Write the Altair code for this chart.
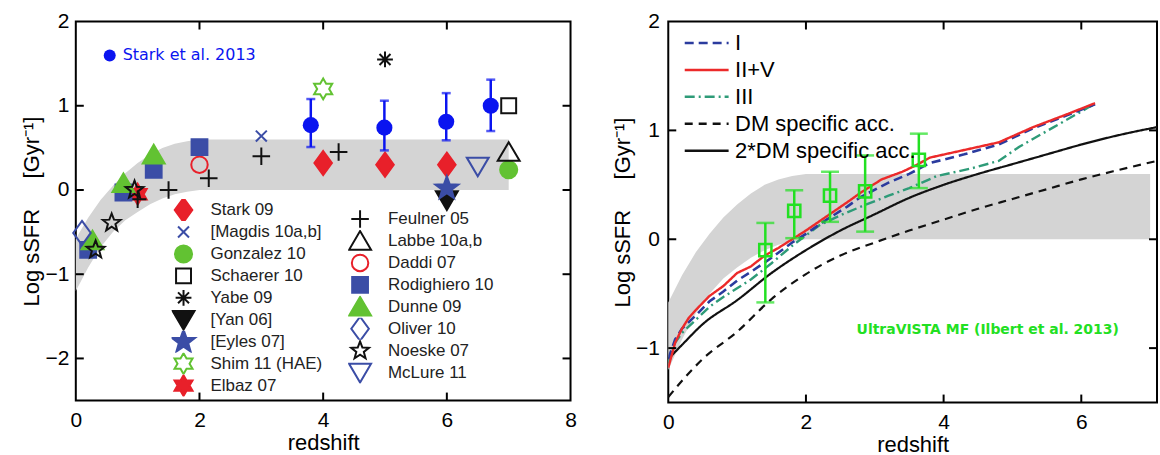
import math
import altair as alt
import pandas as pd

# ---------------- shared shaded band (both panels) ----------------
band_z = [0, 0.2, 0.4, 0.6, 0.8, 1.0, 1.2, 1.4, 1.6, 1.8, 2.0, 2.2, 7.0]
band_hi = [-0.58, -0.33, -0.12, 0.05, 0.2, 0.32, 0.42, 0.5, 0.55, 0.58, 0.6, 0.6, 0.6]
band_lo = [-1.2, -0.92, -0.68, -0.5, -0.36, -0.26, -0.17, -0.1, -0.05, -0.02, 0.0, 0.0, 0.0]

# ---------------- left panel: literature compilation ----------------
obs_series = (["Stark 09"] * 3 + ["[Magdis 10a,b]", "Gonzalez 10", "Schaerer 10", "Yabe 09",
               "[Yan 06]", "[Eyles 07]", "Shim 11 (HAE)", "Elbaz 07"]
              + ["Feulner 05"] * 5 + ["Labbe 10a,b", "Daddi 07"] + ["Rodighiero 10"] * 4
              + ["Dunne 09"] * 3 + ["Oliver 10"] + ["Noeske 07"] * 3 + ["McLure 11"])
obs_z = [4.0, 5.0, 6.0, 3.0, 7.0, 7.0, 5.0, 6.0, 6.0, 4.0, 1.0,
         3.0, 4.25, 2.15, 1.5, 1.0, 7.0, 2.0, 2.0, 1.26, 0.77, 0.2,
         1.26, 0.77, 0.27, 0.1, 0.95, 0.58, 0.32, 6.5]
obs_y = [0.32, 0.30, 0.30, 0.64, 0.24, 1.0, 1.55, -0.12, 0.02, 1.2, -0.05,
         0.40, 0.45, 0.14, 0.0, -0.11, 0.45, 0.3, 0.51, 0.24, -0.03, -0.71,
         0.42, 0.08, -0.6, -0.51, 0.0, -0.39, -0.71, 0.28]

stark13_label = ["Stark et al. 2013"]
stark13_z = [3.8, 4.99, 5.99, 6.71]
stark13_y = [0.77, 0.74, 0.81, 1.00]
stark13_lo = [0.51, 0.47, 0.59, 0.70]
stark13_hi = [1.08, 1.06, 1.15, 1.31]

left_xticks = [0, 2, 4, 6, 8]
left_yticks = [-2, -1, 0, 1, 2]

# ---------------- right panel: models ----------------
m1_z = [0, 0.1, 0.2, 0.4, 0.6, 0.8, 1.0, 1.2, 1.5, 1.8, 2.0, 2.3, 2.6, 2.8, 3.2, 3.5, 3.8, 4.3, 4.8, 5.3, 5.8, 6.2]
m1_y = [-1.1, -0.92, -0.82, -0.7, -0.57, -0.48, -0.38, -0.3, -0.17, -0.03, 0.05, 0.18, 0.3, 0.39, 0.52, 0.6, 0.7, 0.78, 0.87, 1.02, 1.14, 1.24]
m2_z = [0, 0.1, 0.2, 0.3, 0.4, 0.6, 0.8, 1.0, 1.2, 1.4, 1.6, 1.8, 2.0, 2.3, 2.6, 2.8, 3.1, 3.4, 3.6, 3.8, 4.3, 4.8, 5.3, 5.8, 6.2]
m2_y = [-1.18, -0.95, -0.82, -0.72, -0.65, -0.52, -0.43, -0.31, -0.25, -0.15, -0.08, 0.0, 0.08, 0.21, 0.34, 0.43, 0.55, 0.62, 0.68, 0.75, 0.82, 0.89, 1.03, 1.15, 1.25]
m3_z = [0, 0.1, 0.2, 0.4, 0.6, 0.8, 1.0, 1.2, 1.5, 1.8, 2.2, 2.5, 2.8, 3.2, 3.5, 3.9, 4.4, 4.8, 5.1, 5.6, 6.1, 6.2]
m3_y = [-1.14, -0.95, -0.86, -0.74, -0.62, -0.53, -0.45, -0.37, -0.22, -0.06, 0.13, 0.22, 0.3, 0.4, 0.47, 0.58, 0.65, 0.72, 0.85, 1.03, 1.21, 1.24]
dm_z = [0, 0.2, 0.5, 1.0, 1.5, 2.0, 2.5, 3.0, 3.5, 4.0, 4.5, 5.0, 5.5, 6.0, 6.5, 7.1]
dm_y = [-1.45, -1.3, -1.1, -0.85, -0.55, -0.32, -0.15, -0.03, 0.08, 0.18, 0.28, 0.37, 0.46, 0.55, 0.63, 0.72]
dm2_z = [0, 0.2, 0.5, 1.0, 1.5, 2.0, 2.5, 3.0, 3.5, 4.0, 4.5, 5.0, 5.5, 6.0, 6.5, 7.1]
dm2_y = [-1.1, -0.97, -0.78, -0.56, -0.31, -0.1, 0.08, 0.23, 0.38, 0.5, 0.6, 0.69, 0.78, 0.87, 0.95, 1.03]
model_names = ["I", "II+V", "III", "DM specific acc.", "2*DM specific acc."]

uv_z = [1.41, 1.83, 2.35, 2.86, 3.64]
uv_y = [-0.1, 0.26, 0.40, 0.44, 0.73]
uv_lo = [-0.58, 0.01, 0.16, 0.07, 0.47]
uv_hi = [0.15, 0.45, 0.62, 0.77, 0.97]
uv_label = ["UltraVISTA MF (Ilbert et al. 2013)"]
uv_label_pos = [4.64, -0.83]

right_xticks = [0, 2, 4, 6]
right_yticks = [-1, 0, 1, 2]

# ---------------- styling ----------------
RED, BLUE, GREEN, BLACK = "#e8202a", "#3b4da6", "#62c232", "#111111"
SBLUE = "#0a14f0"
LGREEN = "#22e022"
NONE = "transparent"
FONT = "Liberation Sans"
YTITLE = "Log sSFR\u00a0\u00a0\u00a0\u00a0\u00a0[Gyr\u207b\u00b9]"
LW, LH = 496, 380
RW, RH = 490, 382
GAP = 98


def star_path(n, ro, ri):
    pts = []
    for k in range(2 * n):
        r = ro if k % 2 == 0 else ri
        a = -math.pi / 2 + k * math.pi / n
        pts.append((r * math.cos(a), r * math.sin(a)))
    return "M" + "L".join(f"{x:.3f},{y:.3f}" for x, y in pts) + "Z"


def circle_path(r):
    return f"M{r},0A{r},{r},0,1,1,{-r},0A{r},{r},0,1,1,{r},0Z"


def square_path(h):
    return f"M{-h},{-h}L{h},{-h}L{h},{h}L{-h},{h}Z"


DIAMOND = "M0,-1.1L0.8,0L0,1.1L-0.8,0Z"
XMARK = "M-0.5,-0.5L0.5,0.5M-0.5,0.5L0.5,-0.5"
PLUS = "M-0.8,0L0.8,0M0,-0.8L0,0.8"
ASTER = "M-0.72,0L0.72,0M0,-0.72L0,0.72M-0.5,-0.5L0.5,0.5M-0.5,0.5L0.5,-0.5"
DOWNTRI = "M-1,-0.8L1,-0.8L0,0.9Z"
UPTRI = "M-1,0.8L1,0.8L0,-0.9Z"
HEX = star_path(6, 0.95, 0.95 / math.sqrt(3))

colA = ["Stark 09", "[Magdis 10a,b]", "Gonzalez 10", "Schaerer 10", "Yabe 09",
        "[Yan 06]", "[Eyles 07]", "Shim 11 (HAE)", "Elbaz 07"]
shapeA = [DIAMOND, XMARK, circle_path(0.78), square_path(0.68), ASTER, DOWNTRI,
          star_path(5, 1.1, 0.45), HEX, HEX]
fillA = [RED, NONE, GREEN, NONE, NONE, BLACK, BLUE, NONE, RED]
strokeA = [RED, BLUE, GREEN, BLACK, BLACK, BLACK, BLUE, GREEN, RED]

colB = ["Feulner 05", "Labbe 10a,b", "Daddi 07", "Rodighiero 10", "Dunne 09",
        "Oliver 10", "Noeske 07", "McLure 11"]
shapeB = [PLUS, UPTRI, circle_path(0.75), square_path(0.72), UPTRI, DIAMOND,
          star_path(5, 0.85, 0.36), DOWNTRI]
fillB = [NONE, NONE, NONE, BLUE, GREEN, NONE, NONE, NONE]
strokeB = [BLACK, BLACK, RED, BLUE, GREEN, BLUE, BLACK, BLUE]

# ---------------- data frames ----------------
band_df = pd.DataFrame({"z": band_z, "hi": band_hi, "lo": band_lo})
obs_df = pd.DataFrame({"series": obs_series, "z": obs_z, "y": obs_y})
s13_df = pd.DataFrame({"series": stark13_label * len(stark13_z), "z": stark13_z,
                       "y": stark13_y, "lo": stark13_lo, "hi": stark13_hi})
lines_df = pd.concat([
    pd.DataFrame({"model": name, "z": zz, "y": yy})
    for name, zz, yy in zip(model_names, [m1_z, m2_z, m3_z, dm_z, dm2_z],
                            [m1_y, m2_y, m3_y, dm_y, dm2_y])
], ignore_index=True)
uv_df = pd.DataFrame({"z": uv_z, "y": uv_y, "lo": uv_lo, "hi": uv_hi})
uvtxt_df = pd.DataFrame({"label": uv_label, "z": [uv_label_pos[0]], "y": [uv_label_pos[1]]})

# ---------------- left panel ----------------
xsL = alt.Scale(domain=[0, 8], nice=False, zero=False)
ysL = alt.Scale(domain=[-2.5, 2], nice=False, zero=False)
axXL = alt.Axis(values=left_xticks, title="redshift", labelFlush=False, labelPadding=9,
                titlePadding=2)
axYL = alt.Axis(values=left_yticks, title=YTITLE, labelPadding=7, titlePadding=1)
XL = lambda f="z": alt.X(f"{f}:Q", scale=xsL, axis=axXL)
YL = lambda f="y": alt.Y(f"{f}:Q", scale=ysL, axis=axYL)

band_L = alt.Chart(band_df).mark_area(color="#d4d4d4", opacity=1).encode(
    x=XL(), y=YL("hi"), y2="lo:Q")


def point_layer(names, shapes, fills, strokes, lx, ly, loff):
    leg = alt.Legend(title=None, orient="none", legendX=lx, legendY=ly, padding=0,
                     symbolSize=484, symbolStrokeWidth=2, clipHeight=22, rowPadding=0,
                     labelFontSize=17, labelFont=FONT, labelColor="#222222",
                     labelOffset=loff, labelLimit=400, symbolOpacity=1)
    return alt.Chart(obs_df).transform_filter(
        alt.FieldOneOfPredicate(field="series", oneOf=names)
    ).mark_point(filled=True, size=484, opacity=1, strokeWidth=2).encode(
        x=XL(), y=YL(),
        shape=alt.Shape("series:N", scale=alt.Scale(domain=names, range=shapes), legend=leg),
        fill=alt.Fill("series:N", scale=alt.Scale(domain=names, range=fills), legend=leg),
        stroke=alt.Stroke("series:N", scale=alt.Scale(domain=names, range=strokes), legend=leg),
    )


ptsA = point_layer(colA, shapeA, fillA, strokeA, 96, 178, 15)
ptsB = point_layer(colB, shapeB, fillB, strokeB, 273, 187, 16)

s13_rule = alt.Chart(s13_df).mark_rule(color=SBLUE, strokeWidth=2.5).encode(
    x=XL(), y=YL("lo"), y2="hi:Q")
s13_cap_lo = alt.Chart(s13_df).mark_tick(color=SBLUE, orient="horizontal", size=9,
                                         thickness=2.5).encode(x=XL(), y=YL("lo"))
s13_cap_hi = alt.Chart(s13_df).mark_tick(color=SBLUE, orient="horizontal", size=9,
                                         thickness=2.5).encode(x=XL(), y=YL("hi"))
s13_pts = alt.Chart(s13_df).mark_point(filled=True, shape="circle", size=260, opacity=1).encode(
    x=XL(), y=YL(),
    fill=alt.Fill("series:N", scale=alt.Scale(domain=stark13_label, range=[SBLUE]),
                  legend=alt.Legend(title=None, orient="none", legendX=26, legendY=24,
                                    padding=0, symbolType="circle", symbolSize=144,
                                    clipHeight=20, labelFont="DejaVu Sans", labelFontSize=16,
                                    labelColor=SBLUE, labelOffset=5, symbolOpacity=1,
                                    symbolStrokeWidth=0, labelLimit=400)))

tick_xL = pd.DataFrame({"t": left_xticks[1:-1]})
tick_yL = pd.DataFrame({"t": left_yticks[:-1]})
tkL = [
    alt.Chart(tick_xL).mark_rule(color="black", strokeWidth=2).encode(
        x=XL("t"), y=alt.value(LH), y2=alt.value(LH - 8)),
    alt.Chart(tick_xL).mark_rule(color="black", strokeWidth=2).encode(
        x=XL("t"), y=alt.value(0), y2=alt.value(8)),
    alt.Chart(tick_yL).mark_rule(color="black", strokeWidth=2).encode(
        y=YL("t"), x=alt.value(0), x2=alt.value(8)),
    alt.Chart(tick_yL).mark_rule(color="black", strokeWidth=2).encode(
        y=YL("t"), x=alt.value(LW), x2=alt.value(LW - 8)),
]

left = alt.layer(band_L, ptsA, ptsB, s13_rule, s13_cap_lo, s13_cap_hi, s13_pts, *tkL).resolve_scale(
    shape="independent", fill="independent", stroke="independent"
).properties(width=LW, height=LH)

# ---------------- right panel ----------------
xsR = alt.Scale(domain=[0, 7.1], nice=False, zero=False)
ysR = alt.Scale(domain=[-1.5, 2], nice=False, zero=False)
axXR = alt.Axis(values=right_xticks, title="redshift", labelFlush=False, labelPadding=9,
                titlePadding=2)
axYR = alt.Axis(values=right_yticks, title=YTITLE, labelPadding=9, titlePadding=1)
XR = lambda f="z": alt.X(f"{f}:Q", scale=xsR, axis=axXR)
YR = lambda f="y": alt.Y(f"{f}:Q", scale=ysR, axis=axYR)

band_R = alt.Chart(band_df).mark_area(color="#d4d4d4", opacity=1).encode(
    x=XR(), y=YR("hi"), y2="lo:Q")

# legends of a concatenated chart are placed relative to the whole chart's origin
line_leg = alt.Legend(title=None, orient="none", legendX=LW + GAP + 15, legendY=8, padding=0,
                      symbolType="stroke", symbolSize=1936, symbolStrokeWidth=2.5,
                      clipHeight=27, rowPadding=0, labelFontSize=22, labelFont=FONT,
                      labelColor="black", labelOffset=5, labelLimit=400)
stroke_sc = alt.Scale(domain=model_names, range=["#2b3b9e", "#ec2a2a", "#2e9b78", BLACK, BLACK])
dash_sc = alt.Scale(domain=model_names, range=[[9, 5], [1, 0], [10, 4, 2, 4], [8, 6], [1, 0]])
draw_order = [("DM specific acc.", 2.2, "monotone"), ("2*DM specific acc.", 2.2, "monotone"),
              ("III", 2.4, "linear"), ("I", 2.6, "linear"), ("II+V", 2.4, "linear")]
line_layers = [
    alt.Chart(lines_df).transform_filter(alt.datum.model == name).mark_line(
        strokeWidth=sw, interpolate=interp, clip=True).encode(
        x=XR(), y=YR(),
        stroke=alt.Stroke("model:N", scale=stroke_sc, legend=line_leg),
        strokeDash=alt.StrokeDash("model:N", scale=dash_sc, legend=line_leg),
        order=alt.Order("z:Q"))
    for name, sw, interp in draw_order
]

uv_rule = alt.Chart(uv_df).mark_rule(color=LGREEN, strokeWidth=2.5).encode(
    x=XR(), y=YR("lo"), y2="hi:Q")
uv_cap_lo = alt.Chart(uv_df).mark_tick(color=LGREEN, orient="horizontal", size=18,
                                       thickness=2.5).encode(x=XR(), y=YR("lo"))
uv_cap_hi = alt.Chart(uv_df).mark_tick(color=LGREEN, orient="horizontal", size=18,
                                       thickness=2.5).encode(x=XR(), y=YR("hi"))
uv_pts = alt.Chart(uv_df).mark_point(shape="square", size=150, filled=False, opacity=1,
                                     color=LGREEN, strokeWidth=2.5).encode(x=XR(), y=YR())
uv_txt = alt.Chart(uvtxt_df).mark_text(font="DejaVu Sans", fontWeight="bold", fontSize=14,
                                       color=LGREEN, align="center", baseline="middle").encode(
    x=XR(), y=YR(), text="label:N")

tick_xR = pd.DataFrame({"t": right_xticks[1:]})
tick_yR = pd.DataFrame({"t": right_yticks[:-1]})
tkR = [
    alt.Chart(tick_xR).mark_rule(color="black", strokeWidth=2).encode(
        x=XR("t"), y=alt.value(RH), y2=alt.value(RH - 8)),
    alt.Chart(tick_xR).mark_rule(color="black", strokeWidth=2).encode(
        x=XR("t"), y=alt.value(0), y2=alt.value(8)),
    alt.Chart(tick_yR).mark_rule(color="black", strokeWidth=2).encode(
        y=YR("t"), x=alt.value(0), x2=alt.value(8)),
    alt.Chart(tick_yR).mark_rule(color="black", strokeWidth=2).encode(
        y=YR("t"), x=alt.value(RW), x2=alt.value(RW - 8)),
]

right = alt.layer(band_R, *line_layers, uv_rule, uv_cap_lo, uv_cap_hi, uv_pts, uv_txt, *tkR
                  ).properties(width=RW, height=RH)

chart = alt.hconcat(left, right, spacing=GAP, bounds="flush").properties(
    padding={"left": 20, "top": 9, "right": 1, "bottom": 0}, background="white"
).configure(font=FONT).configure_view(stroke="black", strokeWidth=2).configure_axis(
    grid=False, ticks=False, domain=False, labelFont=FONT, titleFont=FONT,
    labelFontSize=21, titleFontSize=22, labelColor="black", titleColor="black",
    titleFontWeight="normal")

chart.save("out.html", embed_options={"renderer": "svg", "actions": False})
